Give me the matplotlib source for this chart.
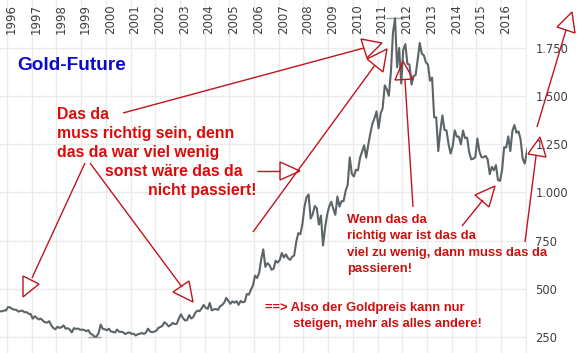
import numpy as np
import matplotlib
matplotlib.use("Agg")
import matplotlib.pyplot as plt
from matplotlib.patches import Polygon

# ---------------- data ----------------
start_year, start_month = 1995, 9
gold_prices = [
    # 1995 Sep-Dec
    384, 383, 387, 388,
    # 1996
    405, 404, 396, 392, 391, 382, 385, 387, 379, 379, 371, 369,
    # 1997
    345, 358, 349, 341, 345, 334, 326, 325, 332, 311, 297, 290,
    # 1998
    303, 297, 301, 310, 293, 296, 288, 274, 296, 292, 294, 288,
    # 1999
    288, 287, 280, 286, 268, 262, 252, 253, 270, 315, 293, 290,
    # 2000
    285, 293, 279, 276, 273, 289, 277, 277, 274, 265, 271, 274,
    # 2001
    266, 267, 258, 264, 267, 271, 266, 273, 293, 279, 275, 278,
    # 2002
    282, 297, 302, 308, 327, 318, 305, 312, 323, 317, 319, 347,
    # 2003
    368, 348, 336, 338, 364, 346, 354, 376, 387, 384, 398, 416,
    # 2004
    402, 396, 427, 388, 394, 395, 391, 409, 416, 428, 453, 438,
    # 2005
    422, 435, 428, 436, 417, 437, 430, 433, 473, 470, 496, 518,
    # 2006
    569, 556, 583, 654, 705, 614, 633, 624, 599, 604, 646, 636,
    # 2007
    650, 686, 663, 679, 659, 650, 666, 673, 743, 789, 783, 836,
    # 2008
    926, 975, 990, 865, 887, 930, 918, 833, 880, 725, 814, 884,
    # 2009
    927, 952, 916, 884, 979, 927, 955, 955, 1008, 1040, 1182, 1097,
    # 2010
    1083, 1118, 1115, 1180, 1212, 1245, 1181, 1248, 1307, 1357, 1385, 1421,
    # 2011
    1333, 1409, 1439, 1556, 1536, 1502, 1628, 1830, 1905, 1650, 1750, 1566,
    # 2012
    1740, 1770, 1668, 1664, 1560, 1604, 1610, 1690, 1776, 1720, 1712, 1675,
    # 2013
    1664, 1580, 1596, 1390, 1390, 1215, 1320, 1400, 1325, 1322, 1250, 1202,
    # 2014
    1240, 1322, 1290, 1290, 1250, 1322, 1282, 1285, 1210, 1172, 1175, 1184,
    # 2015
    1280, 1212, 1183, 1183, 1190, 1172, 1095, 1133, 1115, 1142, 1065, 1060,
    # 2016
    1117, 1235, 1233, 1291, 1215, 1320, 1350, 1310, 1317, 1275, 1175, 1150,
    # 2017
    1210, 1255,
]
year_labels = [str(y) for y in range(1996, 2017)]
grid_years = list(range(1996, 2018))
price_ticks = [250, 500, 750, 1000, 1250, 1500, 1750]

title = "Gold-Future"
text_block_a = [("Das da", 57, 119), ("muss richtig sein, denn", 57, 138),
                ("das da war viel wenig", 57, 157), ("sonst wäre das da", 105, 176),
                ("nicht passiert!", 148, 195)]
text_block_b = [("Wenn das da", 347, 223), ("richtig war ist das da", 347, 239.5),
                ("viel zu wenig, dann muss das da", 347, 256),
                ("passieren!", 347, 272)]
text_block_c = [("==> Also der Goldpreis kann nur", 265, 310.5),
                ("steigen, mehr als alles andere!", 293, 326.5)]

# hand-drawn arrows (pixel coordinates): line, open triangle head
arrows = [
    ((123, 113), (364, 48), [(361, 39), (382, 43), (367, 58)]),
    ((253, 232), (375, 65), [(367, 59), (387, 49), (383, 72)]),
    ((257, 171), (280, 171), [(280, 162), (300, 171), (280, 180)]),
    ((85, 163), (32, 278), [(23, 276), (39, 284), (23, 297)]),
    ((90, 163), (182, 287), [(173, 292), (189, 281), (193, 302)]),
    ((413, 207), (405, 80), [(395, 80), (403, 61), (413, 79)]),
    ((462, 226), (483, 200), [(475, 195), (495, 186), (489, 207)]),
    ((525, 242), (536, 156), [(528, 154), (540, 137), (546, 157)]),
    ((537, 127), (566, 30), [(557, 27), (572, 12), (575, 33)]),
]

# ---------------- figure ----------------
W, H = 578, 353
fig = plt.figure(figsize=(W / 100, H / 100), dpi=100)
fig.patch.set_facecolor("white")

ax = fig.add_axes([0, 0, 527 / W, 1])
n = len(gold_prices)
months = np.arange(n) + (start_month - 1)
dates = start_year + (months + 0.5) / 12.0
prices = np.array(gold_prices, dtype=float)

ax.plot(dates, prices, color="#5d6468", lw=1.5, zorder=3)
imax, imin = int(np.argmax(prices)), int(np.argmin(prices))
ax.hlines([prices[imax]], dates[imax] - 0.35, dates[imax] + 0.35, color="#a0a4a8", lw=1, zorder=2)
ax.hlines([prices[imin]], dates[imin] - 0.25, dates[imin] + 0.25, color="#a0a4a8", lw=1, zorder=2)

ax.set_xlim(1995.717, 2017.05)
ax.set_ylim(167, 1999)
ax.set_xticks(grid_years)
ax.set_xticklabels([])
ax.set_yticks(price_ticks)
ax.set_yticklabels([f"{v:,}".replace(",", ".") for v in price_ticks])
ax.yaxis.tick_right()
ax.tick_params(axis="y", length=0, pad=6, labelsize=8.3, labelcolor="#404040")
ax.tick_params(axis="x", length=0)
ax.grid(True, color="#ebebeb", lw=1, zorder=0)
for s in ax.spines.values():
    s.set_visible(False)
ax.set_facecolor("none")

px_per_year = 24.7
for lab in year_labels:
    ax.text(int(lab) + 4.5 / px_per_year, 1 - 4 / H, lab, transform=ax.get_xaxis_transform(),
            rotation=90, ha="center", va="top", fontsize=8.5, color="#404040")

# overlay in pixel coordinates for annotations
ov = fig.add_axes([0, 0, 1, 1])
ov.set_xlim(0, W)
ov.set_ylim(H, 0)
ov.axis("off")
ov.patch.set_visible(False)

ov.text(17, 70, title, fontsize=13.7, fontweight="bold", color="#0a0acc",
        family="Liberation Sans", va="baseline")
for t, x, y in text_block_a:
    ov.text(x, y, t, fontsize=11.4, fontweight="bold", color="#dd0a0a",
            family="Liberation Sans", va="baseline")
for t, x, y in text_block_b + text_block_c:
    ov.text(x, y, t, fontsize=9.4, fontweight="bold", color="#cc1010",
            family="Liberation Sans", va="baseline")

arrow_color = "#c0141c"
for (x0, y0), (x1, y1), tri in arrows:
    ov.plot([x0, x1], [y0, y1], color=arrow_color, lw=1.0, solid_capstyle="butt")
    ov.add_patch(Polygon(tri, closed=True, fill=False, edgecolor=arrow_color, lw=1.0))

fig.savefig("out.png", dpi=100)
